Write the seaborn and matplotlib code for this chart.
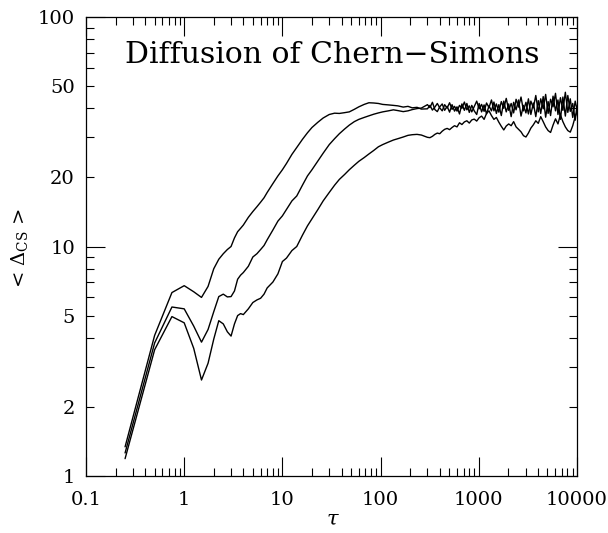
import numpy as np
import pandas as pd
import matplotlib
matplotlib.use("Agg")
import matplotlib.pyplot as plt
import seaborn as sns
from matplotlib.ticker import FixedLocator, FixedFormatter, FuncFormatter

# ---------------- data ----------------
tau = [0.25, 0.5, 0.75, 1.0, 1.25, 1.5, 1.75, 2.0, 2.25, 2.5,
       2.75, 3.0, 3.25, 3.5, 3.75, 4.0, 4.5, 5.0, 5.5, 6.0,
       6.5, 7.0, 8.0, 9.0, 10, 11, 12.5, 14, 16, 18,
       20, 23, 26, 30, 34, 38, 43, 48, 54, 60,
       68, 76, 85, 95, 105, 120, 135, 150, 170, 190,
       210, 235, 260,
       300, 318, 337, 357, 378, 400, 424, 449, 476, 504,
       534, 566, 600, 636, 673, 713, 756, 800, 848, 898,
       952, 1008, 1068, 1132, 1199, 1270, 1346, 1426, 1510, 1600,
       1695, 1796, 1903, 2016, 2136, 2263, 2397, 2540, 2691, 2851,
       3020, 3200, 3390, 3592, 3805, 4032, 4271, 4525, 4794, 5079,
       5381, 5701, 6040, 6399, 6779, 7182, 7609, 8061, 8541, 9048,
       9586, 10000]

run_top = [1.34, 4.1, 6.3, 6.75, 6.35, 6.0, 6.7, 8.0, 8.8, 9.3,
           9.7, 10.0, 10.9, 11.6, 12.0, 12.4, 13.4, 14.2, 14.9, 15.6,
           16.3, 17.2, 18.8, 20.3, 21.6, 23.0, 25.2, 27.0, 29.3, 31.3,
           33.0, 34.8, 36.3, 37.6, 38.1, 38.0, 38.3, 38.6, 39.6, 40.6,
           41.6, 42.3, 42.2, 42.0, 41.6, 41.4, 41.2, 41.0, 40.5, 40.8,
           40.2, 40.4, 39.7,
           39.8, 41.2, 39.3, 40.5, 42.0, 40.2, 39.0, 41.5, 40.1, 42.3,
           39.6, 40.8, 38.9, 41.2, 40.0, 42.6, 39.4, 41.0, 38.6, 40.7,
           43.0, 39.8, 41.6, 38.8, 42.2, 40.3, 43.5, 39.0, 41.8, 38.5,
           42.8, 40.0, 44.2, 39.2, 42.0, 38.2, 43.8, 40.5, 44.8, 39.0,
           42.5, 37.8, 43.0, 40.2, 45.5, 38.6, 44.0, 39.8, 46.0, 38.0,
           43.8, 40.6, 46.5, 37.6, 44.5, 39.2, 47.0, 38.4, 44.0, 36.5,
           43.0, 39.5]

run_mid = [1.26, 3.8, 5.45, 5.35, 4.5, 3.83, 4.35, 5.2, 6.05, 6.2,
           6.03, 6.05, 6.4, 7.2, 7.5, 7.7, 8.2, 9.0, 9.3, 9.7,
           10.1, 10.7, 11.8, 12.9, 13.6, 14.5, 15.8, 16.6, 18.5, 20.3,
           21.6, 23.6, 25.5, 27.8, 29.5, 31.0, 32.5, 33.8, 35.0, 35.8,
           36.5, 37.1, 37.7, 38.2, 38.6, 39.0, 39.4, 39.1, 38.7, 39.0,
           39.5, 39.9, 40.1,
           41.5, 40.3, 42.5, 39.5, 38.7, 40.6, 41.8, 39.2, 40.8, 38.5,
           41.5, 38.9, 40.6, 37.8, 41.8, 39.2, 42.0, 38.4, 41.2, 39.0,
           37.6, 42.0, 38.6, 41.4, 37.8, 41.0, 39.0, 42.6, 38.0, 41.5,
           37.2, 43.0, 38.6, 41.8, 36.8, 42.5, 39.4, 43.5, 37.0, 41.2,
           38.2, 44.0, 37.6, 42.2, 36.8, 43.2, 38.0, 45.0, 36.6, 42.8,
           37.2, 45.2, 39.0, 43.5, 35.8, 44.8, 37.0, 45.5, 38.8, 42.0,
           35.5, 41.0]

run_low = [1.19, 3.55, 4.95, 4.65, 3.6, 2.62, 3.1, 3.95, 4.75, 4.6,
           4.25, 4.07, 4.6, 5.0, 5.1, 5.05, 5.35, 5.7, 5.85, 5.95,
           6.2, 6.6, 7.0, 7.6, 8.6, 8.9, 9.6, 10.0, 11.2, 12.3,
           13.2, 14.5, 15.8, 17.2, 18.5, 19.6, 20.6, 21.6, 22.6, 23.5,
           24.4, 25.3, 26.2, 27.2, 27.8, 28.5, 29.1, 29.5, 30.0, 30.5,
           30.7, 30.8, 30.6,
           29.9, 29.8, 30.2, 30.8, 31.2, 31.0, 31.8, 32.4, 32.7, 32.3,
           33.0, 33.6, 33.2, 34.6, 34.0, 34.9, 35.3, 34.5, 35.6, 35.9,
           35.2, 36.4, 37.0, 35.8, 38.0, 39.0, 37.2, 35.8, 36.5, 34.8,
           33.4, 32.2, 33.5, 34.2, 33.6, 35.0, 33.2, 32.4, 31.6, 30.4,
           30.0, 31.2, 32.8, 33.9, 35.3, 34.4, 36.8, 35.0, 33.2, 32.0,
           31.4, 33.8, 36.0, 34.2, 37.5, 35.0, 33.2, 32.0, 31.5, 33.6,
           36.8, 38.5]

x_tick_values = [0.1, 1, 10, 100, 1000, 10000]
x_tick_labels = ["0.1", "1", "10", "100", "1000", "10000"]
y_major_values = [1, 10, 100]
y_major_labels = ["1", "10", "100"]
y_minor_labelled = [2, 5, 20, 50]

title_text = "Diffusion of Chern\u2212Simons"
x_label = r"$\tau$"
y_label = r"< $\Delta_{\rm CS}$ >"

assert len(tau) == len(run_top) == len(run_mid) == len(run_low)

df = pd.DataFrame({
    "tau": tau * 3,
    "value": run_top + run_mid + run_low,
    "run": ["top"] * len(tau) + ["mid"] * len(tau) + ["low"] * len(tau),
})

# ---------------- style ----------------
sns.set_theme(style="white")
plt.rcParams["font.family"] = ["DejaVu Serif"]
plt.rcParams["mathtext.fontset"] = "dejavuserif"

fig = plt.figure(figsize=(6.08, 5.33), dpi=100)
ax = fig.add_axes([86 / 608, 1 - 476 / 533, 491 / 608, 459 / 533])

sns.lineplot(data=df, x="tau", y="value", hue="run",
             palette=["black", "black", "black"], estimator=None, sort=False,
             legend=False, linewidth=1.0, ax=ax)

ax.set_xscale("log")
ax.set_yscale("log")
ax.set_xlim(0.1, 10000)
ax.set_ylim(1, 100)

# x ticks
ax.xaxis.set_major_locator(FixedLocator(x_tick_values))
ax.xaxis.set_major_formatter(FixedFormatter(x_tick_labels))
xminor = [m * 10.0 ** e for e in range(-1, 4) for m in range(2, 10)]
ax.xaxis.set_minor_locator(FixedLocator(xminor))
ax.xaxis.set_minor_formatter(FuncFormatter(lambda v, p: ""))

# y ticks
ax.yaxis.set_major_locator(FixedLocator(y_major_values))
ax.yaxis.set_major_formatter(FixedFormatter(y_major_labels))
yminor = [m * 10.0 ** e for e in range(0, 2) for m in range(2, 10)]
ax.yaxis.set_minor_locator(FixedLocator(yminor))


def ymin_fmt(v, p):
    for t in y_minor_labelled:
        if abs(v - t) < 1e-6 * t:
            return str(t)
    return ""


ax.yaxis.set_minor_formatter(FuncFormatter(ymin_fmt))

ax.tick_params(which="major", direction="in", length=14, width=0.8,
               top=True, right=True, bottom=True, left=True,
               labelsize=14, colors="black")
ax.tick_params(which="minor", direction="in", length=5.5, width=0.8,
               top=True, right=True, bottom=True, left=True,
               labelsize=14, colors="black")
ax.tick_params(axis="x", which="both", pad=11)
ax.tick_params(axis="y", which="both", pad=8)

for s in ax.spines.values():
    s.set_color("black")
    s.set_linewidth(0.9)

ax.set_xlabel("")
ax.set_ylabel("")

ax.text(0.502, 0.917, title_text, transform=ax.transAxes,
        ha="center", va="center", fontsize=21.5, color="black")

fig.text(19 / 608, 1 - 248 / 533, y_label, rotation=90,
         ha="center", va="center", fontsize=14, color="black")
fig.text(333 / 608, 1 - 519 / 533, x_label,
         ha="center", va="center", fontsize=15, color="black")

fig.savefig("out.png", dpi=100, facecolor="white")
